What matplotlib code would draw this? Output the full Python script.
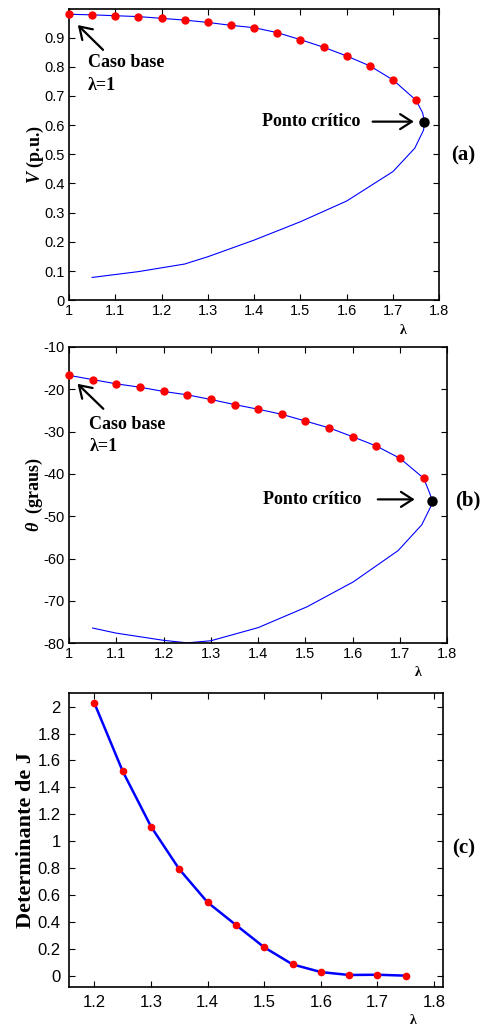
import matplotlib
matplotlib.use("Agg")
import matplotlib.pyplot as plt
import numpy as np

plt.rcParams['font.family'] = ['Liberation Sans', 'DejaVu Sans']
plt.rcParams['mathtext.fontset'] = 'custom'
plt.rcParams['mathtext.it'] = 'Liberation Serif:italic:bold'
plt.rcParams['mathtext.rm'] = 'Liberation Serif:bold'
plt.rcParams['mathtext.bf'] = 'Liberation Serif:bold'

# ---------------- data ----------------
lam_up = [1.00, 1.05, 1.10, 1.15, 1.20, 1.25, 1.30, 1.35, 1.40, 1.45, 1.50, 1.55, 1.60, 1.65, 1.70, 1.75]
V_up = [0.980, 0.978, 0.975, 0.972, 0.966, 0.960, 0.952, 0.942, 0.934, 0.917, 0.893, 0.867, 0.837, 0.803, 0.755, 0.685]
lam_nose_a = [1.764, 1.768, 1.766, 1.747]
V_nose = [0.642, 0.611, 0.583, 0.521]
lam_low_a = [1.70, 1.60, 1.50, 1.40, 1.30, 1.25, 1.15, 1.05]
V_low = [0.441, 0.340, 0.269, 0.206, 0.149, 0.124, 0.098, 0.078]
lam_crit = 1.768
V_crit = 0.611

th_up = [-16.7, -17.7, -18.7, -19.5, -20.5, -21.3, -22.4, -23.6, -24.7, -25.9, -27.5, -29.1, -31.2, -33.4, -36.3, -41.0]
lam_nose_b = [1.763, 1.768, 1.765, 1.746]
th_nose = [-44.6, -46.3, -47.7, -52.0]
lam_low_b = [1.696, 1.601, 1.503, 1.400, 1.300, 1.250, 1.200, 1.100, 1.050]
th_low = [-58.1, -65.5, -71.4, -76.3, -79.4, -79.9, -79.3, -77.6, -76.4]
th_crit = -46.3

lam_det = [1.20, 1.25, 1.30, 1.35, 1.40, 1.45, 1.50, 1.55, 1.60, 1.65, 1.70, 1.75]
det_J = [2.025, 1.519, 1.108, 0.791, 0.545, 0.377, 0.211, 0.084, 0.027, 0.005, 0.007, 0.0]

W, H = 483, 1028
fig = plt.figure(figsize=(W / 100, H / 100), dpi=100)

def ax_rect(l, t, r, b):
    return [l / W, 1 - b / H, (r - l) / W, (b - t) / H]

ax1 = fig.add_axes(ax_rect(69, 9.3, 439.3, 300.2))
ax2 = fig.add_axes(ax_rect(69, 347, 447.3, 643.3))
ax3 = fig.add_axes(ax_rect(69, 692.7, 443.3, 986.7))

def fmt(v, p=None):
    return '%g' % round(v, 6)

def style(ax, fs, pad=3):
    ax.tick_params(direction='in', top=True, right=True, length=4, width=0.8,
                   labelsize=fs, pad=pad)
    for s in ax.spines.values():
        s.set_linewidth(1.2)
    ax.xaxis.set_major_formatter(plt.FuncFormatter(fmt))
    ax.yaxis.set_major_formatter(plt.FuncFormatter(fmt))

serif = ['Liberation Serif', 'DejaVu Serif']
arrow_kw = dict(arrowstyle='->,head_length=0.7,head_width=0.45', lw=1.6, color='black',
                mutation_scale=12, shrinkA=0, shrinkB=0)
tfs = 13

# ---------------- (a) ----------------
ax1.plot(lam_up + lam_nose_a + lam_low_a, V_up + V_nose + V_low, color='blue', lw=0.8, zorder=2)
ax1.plot(lam_up, V_up, 'o', color='red', ms=5, mec='red', zorder=3, clip_on=False)
ax1.plot([lam_crit], [V_crit], 'o', color='black', ms=6.5, zorder=4)
ax1.set_xlim(1, 1.8)
ax1.set_ylim(0, 0.997)
ax1.set_xticks(np.arange(1, 1.81, 0.1))
ax1.set_yticks(np.arange(0, 0.91, 0.1))
style(ax1, 10.5)
ax1.set_ylabel(r'$V$ (p.u.)', fontsize=tfs, fontweight='bold', family=serif, labelpad=-1)
ax1.annotate('', xy=(1.019, 0.943), xytext=(1.0735, 0.858), arrowprops=arrow_kw)
ax1.text(1.041, 0.813, 'Caso base', ha='left', va='center', fontsize=tfs,
         fontweight='bold', family=serif)
ax1.text(1.041, 0.735, 'λ=1', ha='left', va='center', fontsize=tfs,
         fontweight='bold', family=serif)
ax1.text(1.629, 0.612, 'Ponto crítico', ha='right', va='center', fontsize=tfs,
         fontweight='bold', family=serif)
ax1.annotate('', xy=(1.745, 0.612), xytext=(1.656, 0.612), arrowprops=arrow_kw)

# ---------------- (b) ----------------
ax2.plot(lam_up + lam_nose_b + lam_low_b, th_up + th_nose + th_low, color='blue', lw=0.8, zorder=2)
ax2.plot(lam_up, th_up, 'o', color='red', ms=5, mec='red', zorder=3, clip_on=False)
ax2.plot([lam_crit], [th_crit], 'o', color='black', ms=6.5, zorder=4, clip_on=False)
ax2.set_xlim(1, 1.8)
ax2.set_ylim(-80, -10)
ax2.set_xticks(np.arange(1, 1.81, 0.1))
ax2.set_yticks(np.arange(-80, -9, 10))
style(ax2, 10.5)
ax2.set_ylabel(r'$\theta$  (graus)', fontsize=tfs, fontweight='bold', family=serif, labelpad=-1)
ax2.annotate('', xy=(1.018, -18.7), xytext=(1.0726, -24.6), arrowprops=arrow_kw)
ax2.text(1.043, -28.4, 'Caso base', ha='left', va='center', fontsize=tfs,
         fontweight='bold', family=serif)
ax2.text(1.043, -33.6, 'λ=1', ha='left', va='center', fontsize=tfs,
         fontweight='bold', family=serif)
ax2.text(1.619, -46.0, 'Ponto crítico', ha='right', va='center', fontsize=tfs,
         fontweight='bold', family=serif)
ax2.annotate('', xy=(1.731, -46.0), xytext=(1.653, -46.0), arrowprops=arrow_kw)

# ---------------- (c) ----------------
ax3.plot(lam_det, det_J, color='blue', lw=1.8, zorder=2)
ax3.plot(lam_det, det_J, 'o', color='red', ms=4.5, mec='red', zorder=3)
ax3.set_xlim(1.155, 1.8165)
ax3.set_ylim(-0.082, 2.104)
ax3.set_xticks(np.arange(1.2, 1.81, 0.1))
ax3.set_yticks(np.arange(0, 2.01, 0.2))
style(ax3, 12, pad=6)
ax3.set_ylabel('Determinante de J', fontsize=16, fontweight='bold', family=serif, labelpad=1)

# x labels and panel labels
for (x, y) in [(403, 331), (418, 672), (413, 1021)]:
    fig.text(x / W, 1 - y / H, 'λ', ha='center', va='center', fontsize=10,
             fontweight='bold', family=serif)
for (x, y, s) in [(463, 155, '(a)'), (468, 500, '(b)'), (464, 848, '(c)')]:
    fig.text(x / W, 1 - y / H, s, ha='center', va='center', fontsize=15,
             fontweight='bold', family=serif)

fig.savefig('out.png', dpi=100)
